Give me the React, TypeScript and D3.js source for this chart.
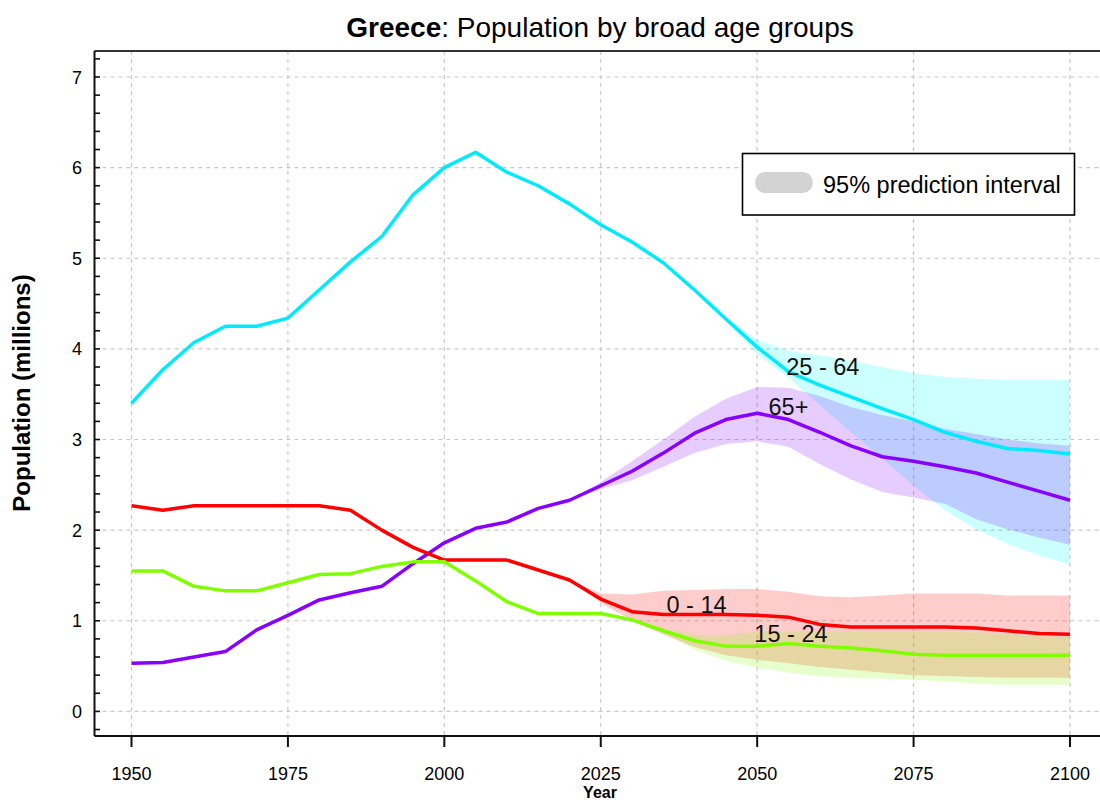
import React from "react";
import * as d3 from "d3";

const years = [1950, 1955, 1960, 1965, 1970, 1975, 1980, 1985, 1990, 1995, 2000, 2005, 2010, 2015, 2020, 2025, 2030, 2035, 2040, 2045, 2050, 2055, 2060, 2065, 2070, 2075, 2080, 2085, 2090, 2095, 2100];

const age25_64 = [3.40, 3.77, 4.07, 4.25, 4.25, 4.34, 4.65, 4.96, 5.24, 5.70, 6.00, 6.17, 5.95, 5.80, 5.60, 5.37, 5.18, 4.95, 4.65, 4.33, 4.02, 3.75, 3.60, 3.47, 3.34, 3.22, 3.08, 2.98, 2.90, 2.88, 2.84];
const age65plus = [0.53, 0.54, 0.60, 0.66, 0.90, 1.06, 1.23, 1.31, 1.38, 1.63, 1.86, 2.02, 2.09, 2.24, 2.33, 2.49, 2.65, 2.85, 3.07, 3.22, 3.29, 3.22, 3.08, 2.93, 2.81, 2.76, 2.70, 2.63, 2.53, 2.43, 2.33];
const age0_14 = [2.27, 2.22, 2.27, 2.27, 2.27, 2.27, 2.27, 2.22, 2.00, 1.81, 1.67, 1.67, 1.67, 1.56, 1.45, 1.24, 1.10, 1.07, 1.07, 1.07, 1.06, 1.04, 0.96, 0.93, 0.93, 0.93, 0.93, 0.92, 0.89, 0.86, 0.85];
const age15_24 = [1.55, 1.55, 1.38, 1.33, 1.33, 1.42, 1.51, 1.52, 1.60, 1.65, 1.65, 1.44, 1.21, 1.08, 1.08, 1.08, 1.01, 0.89, 0.78, 0.72, 0.72, 0.75, 0.72, 0.70, 0.67, 0.63, 0.62, 0.62, 0.62, 0.62, 0.62];

const bandYears = [2020, 2025, 2030, 2035, 2040, 2045, 2050, 2055, 2060, 2065, 2070, 2075, 2080, 2085, 2090, 2095, 2100];
const upper25_64 = [5.60, 5.37, 5.18, 4.95, 4.65, 4.35, 4.10, 3.98, 3.93, 3.87, 3.80, 3.73, 3.69, 3.67, 3.66, 3.66, 3.66];
const lower25_64 = [5.60, 5.37, 5.18, 4.95, 4.65, 4.31, 3.94, 3.68, 3.38, 3.08, 2.79, 2.49, 2.22, 2.01, 1.85, 1.72, 1.62];
const upper65plus = [2.33, 2.53, 2.76, 3.00, 3.25, 3.45, 3.58, 3.57, 3.48, 3.36, 3.27, 3.20, 3.12, 3.06, 3.00, 2.96, 2.93];
const lower65plus = [2.33, 2.45, 2.55, 2.70, 2.85, 2.95, 2.98, 2.92, 2.73, 2.56, 2.42, 2.36, 2.29, 2.12, 2.01, 1.92, 1.84];
const upper0_14 = [1.45, 1.30, 1.29, 1.33, 1.34, 1.35, 1.35, 1.32, 1.27, 1.26, 1.28, 1.30, 1.30, 1.30, 1.28, 1.28, 1.28];
const lower0_14 = [1.45, 1.20, 1.00, 0.85, 0.71, 0.62, 0.57, 0.53, 0.49, 0.46, 0.43, 0.40, 0.39, 0.38, 0.37, 0.37, 0.37];
const upper15_24 = [1.08, 1.08, 1.02, 0.92, 0.84, 0.84, 0.88, 0.88, 0.88, 0.88, 0.88, 0.88, 0.88, 0.87, 0.85, 0.83, 0.82];
const lower15_24 = [1.08, 1.08, 1.00, 0.86, 0.68, 0.56, 0.48, 0.43, 0.39, 0.37, 0.36, 0.35, 0.33, 0.31, 0.29, 0.29, 0.29];

const xTicks = [1950, 1975, 2000, 2025, 2050, 2075, 2100];
const yTicks = [0, 1, 2, 3, 4, 5, 6, 7];

const seriesNames = ["25 - 64", "65+", "0 - 14", "15 - 24"];
const seriesColors = ["#00eaff", "#8800ff", "#ff0000", "#80ff00"];
const bandColors = ["#00ffff", "#8000ff", "#ff0000", "#80ff00"];
const labelYears = [2060.5, 2055, 2040.3, 2055.4];
const labelValues = [3.71, 3.27, 1.09, 0.77];

const W = 1100;
const H = 802;
const left = 94.5;
const right = 1110;
const top = 51;
const bottom = 736;

export default function App() {
  const x = d3.scaleLinear().domain([1950, 2100]).range([131.5, 1070]);
  const y = d3.scaleLinear().domain([0, 7]).range([711.4, 77]);

  const values = [age25_64, age65plus, age0_14, age15_24];
  const uppers = [upper25_64, upper65plus, upper0_14, upper15_24];
  const lowers = [lower25_64, lower65plus, lower0_14, lower15_24];

  const line = d3
    .line<number>()
    .x((_, i) => x(years[i]))
    .y((d) => y(d));

  const areaFor = (up: number[], lo: number[]) =>
    d3
      .area<number>()
      .x((_, i) => x(bandYears[i]))
      .y0((_, i) => y(lo[i]))
      .y1((_, i) => y(up[i]))(up) as string;

  const minorTicks = d3.range(-0.2, 7.21, 0.2);
  const font = "'Liberation Sans', Arial, sans-serif";

  return (
    <svg width={W} height={H} style={{ position: "absolute", left: 0, top: 0, background: "#fff" }} fontFamily={font}>
      <rect x={0} y={0} width={W} height={H} fill="#fff" />
      {/* grid */}
      {xTicks.map((t) => (
        <line key={"gx" + t} x1={x(t)} x2={x(t)} y1={top} y2={bottom} stroke="#c8c8c8" strokeWidth={1.2} strokeDasharray="4 4" />
      ))}
      {yTicks.map((t) => (
        <line key={"gy" + t} x1={left} x2={right} y1={y(t)} y2={y(t)} stroke="#c8c8c8" strokeWidth={1.2} strokeDasharray="4 4" />
      ))}
      {/* bands */}
      {uppers.map((up, i) => (
        <path key={"band" + i} d={areaFor(up, lowers[i])} fill={bandColors[i]} fillOpacity={0.2} stroke="none" />
      ))}
      {/* lines */}
      {values.map((v, i) => (
        <path key={"line" + i} d={line(v) as string} fill="none" stroke={seriesColors[i]} strokeWidth={3.5} strokeLinejoin="round" />
      ))}
      {/* series labels */}
      {seriesNames.map((n, i) => (
        <text key={"lab" + i} x={x(labelYears[i])} y={y(labelValues[i])} textAnchor="middle" fontSize={23.5} fill="#111">
          {n}
        </text>
      ))}
      {/* axes */}
      <line x1={left} x2={right} y1={top} y2={top} stroke="#333" strokeWidth={2.2} />
      <line x1={left} x2={left} y1={top} y2={bottom} stroke="#111" strokeWidth={2} />
      <line x1={left} x2={right} y1={bottom} y2={bottom} stroke="#111" strokeWidth={2} />
      {minorTicks.map((t, i) => (
        <line key={"yt" + i} x1={left} x2={left + 5.5} y1={y(t)} y2={y(t)} stroke="#111" strokeWidth={1.6} />
      ))}
      {yTicks.map((t) => (
        <text key={"yl" + t} x={82} y={y(t) + 6.5} textAnchor="end" fontSize={18} fill="#000">
          {t}
        </text>
      ))}
      {xTicks.map((t) => (
        <g key={"xt" + t}>
          <line x1={x(t)} x2={x(t)} y1={bottom} y2={bottom + 11} stroke="#111" strokeWidth={2} />
          <text x={x(t)} y={780} textAnchor="middle" fontSize={18} fill="#000">
            {t}
          </text>
        </g>
      ))}
      <text x={600} y={798} textAnchor="middle" fontSize={16} fontWeight="bold" fill="#000">
        Year
      </text>
      <text transform="translate(30,393) rotate(-90)" textAnchor="middle" fontSize={24} fontWeight="bold" fill="#000">
        Population (millions)
      </text>
      {/* title */}
      <text x={600} y={37} textAnchor="middle" fontSize={28} fill="#000">
        <tspan fontWeight="bold">Greece</tspan>
        <tspan>: Population by broad age groups</tspan>
      </text>
      {/* legend */}
      <rect x={742.5} y={153.5} width={332} height={61.5} fill="#fff" stroke="#000" strokeWidth={1.6} />
      <rect x={755} y={172} width={58} height={21} rx={10.5} fill="#d3d3d3" />
      <text x={823} y={193} fontSize={23.5} fill="#000">
        95% prediction interval
      </text>
    </svg>
  );
}
